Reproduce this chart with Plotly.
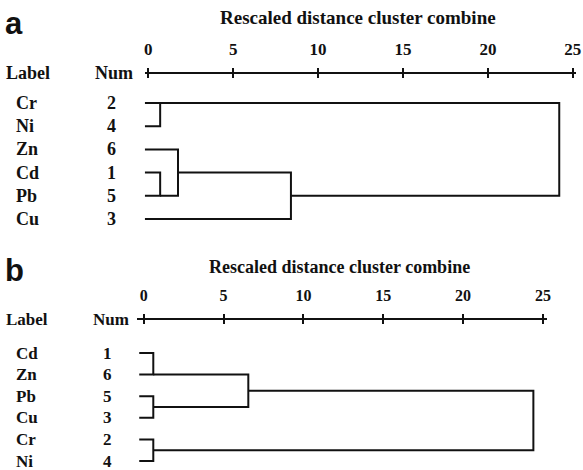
import plotly.graph_objects as go

W, H = 583, 470

# ---------------- data ----------------
tick_values = [0, 5, 10, 15, 20, 25]
axis_title = "Rescaled distance cluster combine"

# Panel a
a_labels = ["Cr", "Ni", "Zn", "Cd", "Pb", "Cu"]
a_nums = ["2", "4", "6", "1", "5", "3"]
a_merge_left = [0, 3, 2, 8, 6]
a_merge_right = [1, 4, 7, 5, 9]
a_merge_dist = [0.7, 0.7, 1.75, 8.4, 24.2]
a_merge_row = [0, 4, 3, 4, None]

# Panel b
b_labels = ["Cd", "Zn", "Pb", "Cu", "Cr", "Ni"]
b_nums = ["1", "6", "5", "3", "2", "4"]
b_merge_left = [0, 2, 6, 4, 8]
b_merge_right = [1, 3, 7, 5, 9]
b_merge_dist = [0.6, 0.6, 6.55, 0.6, 24.4]
b_merge_row = [1, 2.5, 1.75, 4.5, None]


def dendro_paths(n, left, right, dist, row, leaf_start):
    xs, ys = [], []
    node_x = {i: leaf_start for i in range(n)}
    node_y = {i: float(i) for i in range(n)}
    for k, (l, r, d, rw) in enumerate(zip(left, right, dist, row)):
        xs += [node_x[l], d, d, node_x[r], None]
        ys += [node_y[l], node_y[l], node_y[r], node_y[r], None]
        node_x[n + k] = d
        node_y[n + k] = rw
    return xs, ys


LINE = "#111111"
SERIF = "Liberation Serif"

fig = go.Figure()


def px2x(p):
    return p / W


def py2y(p):
    return 1 - p / H


panels = [
    dict(labels=a_labels, nums=a_nums, left=a_merge_left, right=a_merge_right,
         dist=a_merge_dist, row=a_merge_row, leaf_start=-0.2,
         x0px=149.3, xscale=17.1, axl=145.5, axr=580, axy=73.5,
         row0=103, rowstep=23.2, ybot=235, tickfs=17, titlefs=19, labfs=18,
         title_x=360, title_y=17, labx=17, numx=112, headlab=7, headnum=97,
         letter="a", letter_y=24, xa="x", ya="y", xa_ov="x3"),
    dict(labels=b_labels, nums=b_nums, left=b_merge_left, right=b_merge_right,
         dist=b_merge_dist, row=b_merge_row, leaf_start=-0.28,
         x0px=144.7, xscale=16.08, axl=138.3, axr=550.5, axy=319.5,
         row0=353, rowstep=21.6, ybot=470, tickfs=16, titlefs=18, labfs=17,
         title_x=342, title_y=267, labx=17, numx=108, headlab=7, headnum=95,
         letter="b", letter_y=270, xa="x2", ya="y2", xa_ov="x4"),
]

annotations = []
layout_axes = {}
for p in panels:
    xs, ys = dendro_paths(len(p["labels"]), p["left"], p["right"], p["dist"],
                          p["row"], p["leaf_start"])
    fig.add_trace(go.Scatter(x=xs, y=ys, mode="lines", xaxis=p["xa"], yaxis=p["ya"],
                             line=dict(color=LINE, width=2), hoverinfo="skip",
                             showlegend=False))
    fig.add_trace(go.Scatter(x=[tick_values[0]], y=[0], mode="markers", xaxis=p["xa_ov"],
                             yaxis=p["ya"], marker=dict(opacity=0), hoverinfo="skip",
                             showlegend=False))
    xr = [(p["axl"] - p["x0px"]) / p["xscale"], (p["axr"] - p["x0px"]) / p["xscale"]]
    yr = [(p["ybot"] - p["row0"]) / p["rowstep"], (p["axy"] - p["row0"]) / p["rowstep"]]
    xdom = [px2x(p["axl"]), px2x(p["axr"])]
    ydom = [py2y(p["ybot"]), py2y(p["axy"])]
    xkey = "xaxis" if p["xa"] == "x" else "xaxis" + p["xa"][1:]
    xokey = "xaxis" + p["xa_ov"][1:]
    ykey = "yaxis" if p["ya"] == "y" else "yaxis" + p["ya"][1:]
    layout_axes[xkey] = dict(domain=xdom, range=xr, side="top", anchor=p["ya"],
                             showline=True, linecolor=LINE, linewidth=2,
                             ticks="outside", ticklen=4, tickwidth=1.5, tickcolor=LINE,
                             tickvals=tick_values, showgrid=False, zeroline=False,
                             ticklabelstandoff=6,
                             tickfont=dict(family=SERIF, size=p["tickfs"], color=LINE,
                                           weight="bold"))
    layout_axes[xokey] = dict(domain=xdom, range=xr, side="top", anchor=p["ya"],
                              overlaying=p["xa"], showline=False,
                              ticks="inside", ticklen=4, tickwidth=1.5, tickcolor=LINE,
                              tickvals=tick_values, showticklabels=False,
                              showgrid=False, zeroline=False)
    layout_axes[ykey] = dict(domain=ydom, range=yr, anchor=p["xa"], visible=False,
                             showgrid=False, zeroline=False)

    for i, (lab, num) in enumerate(zip(p["labels"], p["nums"])):
        annotations.append(dict(x=px2x(p["labx"] - 3), y=i, xref="paper", yref=p["ya"],
                                text=lab, showarrow=False, xanchor="left", yanchor="middle",
                                font=dict(family=SERIF, size=p["labfs"], color=LINE,
                                          weight="bold")))
        annotations.append(dict(x=px2x(p["numx"]), y=i, xref="paper", yref=p["ya"],
                                text=num, showarrow=False, xanchor="center", yanchor="middle",
                                font=dict(family=SERIF, size=p["labfs"], color=LINE,
                                          weight="bold")))
    annotations.append(dict(x=px2x(p["headlab"] - 3), y=py2y(p["axy"]), xref="paper",
                            yref="paper", text="Label", showarrow=False, xanchor="left",
                            yanchor="middle",
                            font=dict(family=SERIF, size=p["labfs"], color=LINE,
                                      weight="bold")))
    annotations.append(dict(x=px2x(p["headnum"] - 3), y=py2y(p["axy"]), xref="paper",
                            yref="paper", text="Num", showarrow=False, xanchor="left",
                            yanchor="middle",
                            font=dict(family=SERIF, size=p["labfs"], color=LINE,
                                      weight="bold")))
    annotations.append(dict(x=px2x(p["title_x"]), y=py2y(p["title_y"]), xref="paper",
                            yref="paper", text=axis_title, showarrow=False,
                            xanchor="center", yanchor="middle",
                            font=dict(family=SERIF, size=p["titlefs"], color=LINE,
                                      weight="bold")))
    annotations.append(dict(x=px2x(3), y=py2y(p["letter_y"]), xref="paper",
                            yref="paper", text=p["letter"], showarrow=False,
                            xanchor="left", yanchor="middle",
                            font=dict(family="Liberation Sans", size=31, color=LINE,
                                      weight="bold")))

fig.update_layout(width=W, height=H, margin=dict(l=0, r=0, t=0, b=0),
                  paper_bgcolor="white", plot_bgcolor="white",
                  annotations=annotations, showlegend=False, **layout_axes)

fig.write_html("out.html", config={"displayModeBar": False},
               post_script="document.body.style.margin='0px';document.body.style.overflow='hidden';")
